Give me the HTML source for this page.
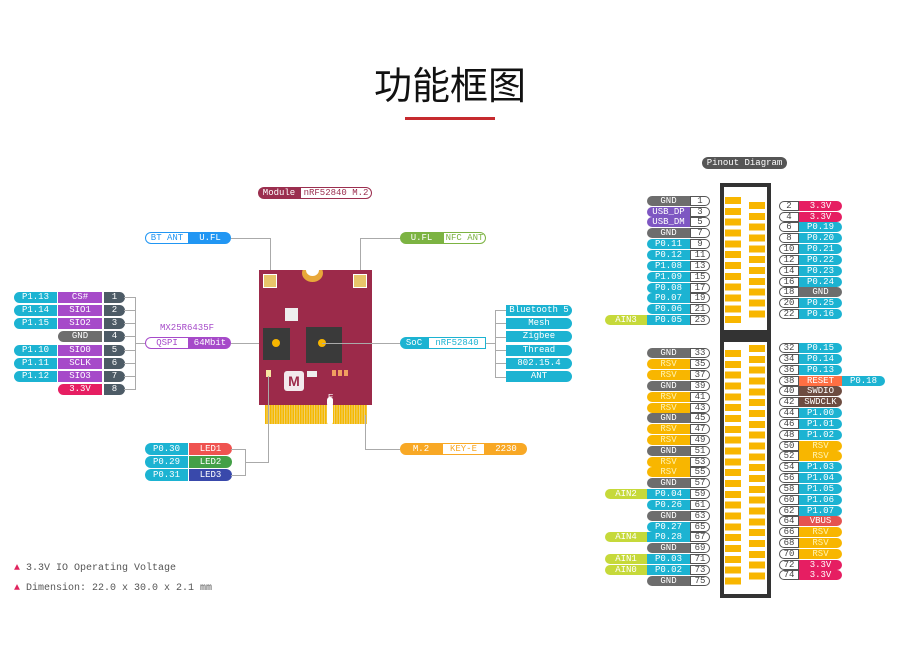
<!DOCTYPE html>
<html><head><meta charset="utf-8"><style>
*{margin:0;padding:0;box-sizing:border-box}
body{width:900px;height:657px;background:#fff;position:relative;overflow:hidden;font-family:"Liberation Mono",monospace;font-size:9px;color:#fff}
.a{position:absolute}
.t{position:absolute;left:0;width:900px;top:55px;text-align:center;font:38px "Liberation Sans","Noto Sans CJK SC",sans-serif;color:#111}
.row{position:absolute;display:flex;height:10px;line-height:10px;white-space:nowrap}
.row span{display:block;text-align:center;height:10px}
.L{left:605px}.R{left:779px}
.x{width:42px}.n{width:43px}.num{width:20px;background:#fff;color:#444;border:1px solid #555;border-radius:0 5px 5px 0;line-height:8px}
.R .num{border-radius:5px 0 0 5px}
.R .n{border-radius:0 5px 5px 0}
.lr{border-radius:5px 0 0 5px}
.g{background:#6d6d6d}.c{background:#1cb3d2}.y{background:#f8b600;color:#fff3b0}.m{background:#c6d93a;color:#fff}
.p{background:#7e57c2}.r{background:#e61e62}.o{background:#ff6f43}.b{background:#6d4c41}.v{background:#e55350}
.line{position:absolute;background:#aaa}
.f{position:absolute;display:flex;height:11px;line-height:11px;font-size:9px;white-space:nowrap}
.f span{display:block;text-align:center}
</style></head><body>
<div class="t">功能框图</div>
<div class="a" style="left:405px;top:117px;width:90px;height:3px;background:#c62a2e"></div>

<div class="f" style="left:258px;top:187px;height:12px;line-height:12px"><span style="width:42px;background:#9b2f4f;border-radius:6px 0 0 6px">Module</span><span style="width:72px;background:#fff;color:#9b2f4f;border:1px solid #9b2f4f;border-radius:0 6px 6px 0;line-height:10px">nRF52840 M.2</span></div>

<div class="f" style="left:145px;top:232px;height:12px;line-height:12px"><span style="width:44px;background:#fff;color:#2196f3;border:1px solid #2196f3;border-radius:6px 0 0 6px;line-height:10px">BT ANT</span><span style="width:42px;background:#2196f3;border-radius:0 6px 6px 0">U.FL</span></div>
<div class="line" style="left:231px;top:238px;width:40px;height:1px"></div>
<div class="line" style="left:270px;top:238px;width:1px;height:34px"></div>

<div class="f" style="left:400px;top:232px;height:12px;line-height:12px"><span style="width:43px;background:#7cb342;border-radius:6px 0 0 6px">U.FL</span><span style="width:43px;background:#fff;color:#7cb342;border:1px solid #7cb342;border-radius:0 6px 6px 0;line-height:10px">NFC ANT</span></div>
<div class="line" style="left:360px;top:238px;width:40px;height:1px"></div>
<div class="line" style="left:360px;top:238px;width:1px;height:34px"></div>

<div class="f" style="left:14px;top:292px"><span class="c" style="width:43px;border-radius:6px 0 0 6px">P1.13</span><span style="width:44px;background:#a64ac9;margin-left:1px">CS#</span><span style="width:21px;background:#4d5b66;margin-left:2px;border-radius:0 6px 6px 0">1</span></div>
<div class="f" style="left:14px;top:305px"><span class="c" style="width:43px;border-radius:6px 0 0 6px">P1.14</span><span style="width:44px;background:#a64ac9;margin-left:1px">SIO1</span><span style="width:21px;background:#4d5b66;margin-left:2px;border-radius:0 6px 6px 0">2</span></div>
<div class="f" style="left:14px;top:318px"><span class="c" style="width:43px;border-radius:6px 0 0 6px">P1.15</span><span style="width:44px;background:#a64ac9;margin-left:1px">SIO2</span><span style="width:21px;background:#4d5b66;margin-left:2px;border-radius:0 6px 6px 0">3</span></div>
<div class="f" style="left:14px;top:331px"><span style="width:43px"></span><span class="g" style="width:44px;margin-left:1px;border-radius:6px 0 0 6px">GND</span><span style="width:21px;background:#4d5b66;margin-left:2px;border-radius:0 6px 6px 0">4</span></div>
<div class="f" style="left:14px;top:345px"><span class="c" style="width:43px;border-radius:6px 0 0 6px">P1.10</span><span style="width:44px;background:#a64ac9;margin-left:1px">SIO0</span><span style="width:21px;background:#4d5b66;margin-left:2px;border-radius:0 6px 6px 0">5</span></div>
<div class="f" style="left:14px;top:358px"><span class="c" style="width:43px;border-radius:6px 0 0 6px">P1.11</span><span style="width:44px;background:#a64ac9;margin-left:1px">SCLK</span><span style="width:21px;background:#4d5b66;margin-left:2px;border-radius:0 6px 6px 0">6</span></div>
<div class="f" style="left:14px;top:371px"><span class="c" style="width:43px;border-radius:6px 0 0 6px">P1.12</span><span style="width:44px;background:#a64ac9;margin-left:1px">SIO3</span><span style="width:21px;background:#4d5b66;margin-left:2px;border-radius:0 6px 6px 0">7</span></div>
<div class="f" style="left:14px;top:384px"><span style="width:43px"></span><span class="r" style="width:44px;margin-left:1px;border-radius:6px 0 0 6px">3.3V</span><span style="width:21px;background:#4d5b66;margin-left:2px;border-radius:0 6px 6px 0">8</span></div>
<div class="line" style="left:124px;top:297px;width:11px;height:1px"></div>
<div class="line" style="left:124px;top:310px;width:11px;height:1px"></div>
<div class="line" style="left:124px;top:323px;width:11px;height:1px"></div>
<div class="line" style="left:124px;top:336px;width:11px;height:1px"></div>
<div class="line" style="left:124px;top:350px;width:11px;height:1px"></div>
<div class="line" style="left:124px;top:363px;width:11px;height:1px"></div>
<div class="line" style="left:124px;top:376px;width:11px;height:1px"></div>
<div class="line" style="left:124px;top:389px;width:11px;height:1px"></div>
<div class="line" style="left:135px;top:297px;width:1px;height:93px"></div>
<div class="line" style="left:135px;top:343px;width:10px;height:1px"></div>
<div class="a" style="left:160px;top:323px;color:#a64ac9;font-size:9px">MX25R6435F</div>
<div class="f" style="left:145px;top:337px;height:12px;line-height:12px"><span style="width:44px;background:#fff;color:#a64ac9;border:1px solid #a64ac9;border-radius:6px 0 0 6px;line-height:10px">QSPI</span><span style="width:42px;background:#a64ac9;border-radius:0 6px 6px 0">64Mbit</span></div>
<div class="line" style="left:231px;top:343px;width:45px;height:1px"></div>

<div class="a" style="left:265px;top:404px;width:102px;height:20px;background:repeating-linear-gradient(90deg,#f5b800 0 1.5px,#f0d070 1.5px 2.5px)"></div>
<div class="a" style="left:327px;top:400px;width:6px;height:25px;background:#fff;border-radius:3px"></div>
<div class="a" style="left:259px;top:270px;width:113px;height:135px;background:#9c2a4a"></div>
<div class="a" style="left:327px;top:397px;width:6px;height:10px;background:#fff;border-radius:3px"></div>
<div class="a" style="left:302px;top:264px;width:21px;height:18px;border-radius:50%;background:#e8a83a"></div>
<div class="a" style="left:306px;top:264px;width:13px;height:12px;border-radius:50%;background:#fff"></div>
<div class="a" style="left:302px;top:262px;width:21px;height:8px;background:#fff"></div>
<div class="a" style="left:263px;top:274px;width:14px;height:14px;background:#e8c46a;border:1px solid #fff"></div>
<div class="a" style="left:353px;top:274px;width:14px;height:14px;background:#e8c46a;border:1px solid #fff"></div>
<div class="a" style="left:285px;top:308px;width:13px;height:13px;background:#eee"></div>
<div class="a" style="left:263px;top:328px;width:27px;height:32px;background:#3a3a3a"></div>
<div class="a" style="left:272px;top:339px;width:8px;height:8px;background:#f7b500;border-radius:50%"></div>
<div class="a" style="left:306px;top:327px;width:36px;height:36px;background:#3a3a3a"></div>
<div class="a" style="left:318px;top:339px;width:8px;height:8px;background:#f7b500;border-radius:50%"></div>
<div class="a" style="left:284px;top:371px;width:20px;height:20px;background:#f2e9ec;border-radius:3px;color:#9c2a4a;font:bold 14px 'Liberation Sans',sans-serif;text-align:center;line-height:20px">M</div>
<div class="a" style="left:307px;top:371px;width:10px;height:6px;background:#eee"></div>
<div class="a" style="left:332px;top:370px;width:18px;height:6px;background:repeating-linear-gradient(90deg,#f0a060 0 4px,transparent 4px 6px)"></div>
<div class="a" style="left:266px;top:370px;width:5px;height:7px;background:#f7e7a0"></div>
<div class="a" style="left:328px;top:393px;font:8px 'Liberation Sans',sans-serif;color:#fff">E</div>

<div class="line" style="left:322px;top:343px;width:78px;height:1px"></div>
<div class="f" style="left:400px;top:337px;height:12px;line-height:12px"><span class="c" style="width:28px;border-radius:6px 0 0 6px">SoC</span><span style="width:58px;background:#fff;color:#1cb3d2;border:1px solid #1cb3d2;line-height:10px">nRF52840</span></div>
<div class="line" style="left:486px;top:343px;width:9px;height:1px"></div>
<div class="line" style="left:495px;top:310px;width:1px;height:67px"></div>
<div class="line" style="left:495px;top:310px;width:11px;height:1px"></div>
<div class="line" style="left:495px;top:323px;width:11px;height:1px"></div>
<div class="line" style="left:495px;top:337px;width:11px;height:1px"></div>
<div class="line" style="left:495px;top:350px;width:11px;height:1px"></div>
<div class="line" style="left:495px;top:363px;width:11px;height:1px"></div>
<div class="line" style="left:495px;top:377px;width:11px;height:1px"></div>
<div class="f" style="left:506px;top:305px"><span class="c" style="width:66px;border-radius:0 6px 6px 0">Bluetooth 5</span></div>
<div class="f" style="left:506px;top:318px"><span class="c" style="width:66px;border-radius:0 6px 6px 0">Mesh</span></div>
<div class="f" style="left:506px;top:331px"><span class="c" style="width:66px;border-radius:0 6px 6px 0">Zigbee</span></div>
<div class="f" style="left:506px;top:345px"><span class="c" style="width:66px;border-radius:0 6px 6px 0">Thread</span></div>
<div class="f" style="left:506px;top:358px"><span class="c" style="width:66px;border-radius:0 6px 6px 0">802.15.4</span></div>
<div class="f" style="left:506px;top:371px"><span class="c" style="width:66px;border-radius:0 6px 6px 0">ANT</span></div>

<div class="line" style="left:365px;top:415px;width:1px;height:34px"></div>
<div class="line" style="left:365px;top:449px;width:35px;height:1px"></div>
<div class="f" style="left:400px;top:443px;height:12px;line-height:12px"><span style="width:42px;background:#f8a825;border-radius:6px 0 0 6px">M.2</span><span style="width:43px;background:#fff;color:#f8a825;border:1px solid #f8a825;line-height:10px">KEY-E</span><span style="width:42px;background:#f8a825;border-radius:0 6px 6px 0">2230</span></div>

<div class="f" style="left:145px;top:443px;height:12px;line-height:12px"><span class="c" style="width:43px;border-radius:6px 0 0 6px">P0.30</span><span style="width:43px;margin-left:1px;background:#ef5350;border-radius:0 6px 6px 0">LED1</span></div>
<div class="f" style="left:145px;top:456px;height:12px;line-height:12px"><span class="c" style="width:43px;border-radius:6px 0 0 6px">P0.29</span><span style="width:43px;margin-left:1px;background:#43a047;border-radius:0 6px 6px 0">LED2</span></div>
<div class="f" style="left:145px;top:469px;height:12px;line-height:12px"><span class="c" style="width:43px;border-radius:6px 0 0 6px">P0.31</span><span style="width:43px;margin-left:1px;background:#3949ab;border-radius:0 6px 6px 0">LED3</span></div>
<div class="line" style="left:231px;top:449px;width:14px;height:1px"></div>
<div class="line" style="left:231px;top:475px;width:14px;height:1px"></div>
<div class="line" style="left:245px;top:449px;width:1px;height:27px"></div>
<div class="line" style="left:245px;top:462px;width:24px;height:1px"></div>
<div class="line" style="left:268px;top:376px;width:1px;height:87px"></div>

<div class="a" style="left:14px;top:563px;color:#555;font-size:10px"><span style="color:#e0245e">▲</span> 3.3V IO Operating Voltage</div>
<div class="a" style="left:14px;top:583px;color:#555;font-size:10px"><span style="color:#e0245e">▲</span> Dimension: 22.0 x 30.0 x 2.1 mm</div>

<div class="a" style="left:702px;top:157px;width:85px;height:12px;background:#555;border-radius:6px;text-align:center;line-height:12px">Pinout Diagram</div>
<div class="a" style="left:720px;top:183px;width:51px;height:415px;background:#333"></div>
<div class="a" style="left:724px;top:187px;width:43px;height:143px;background:#fff"></div>
<div class="a" style="left:724px;top:342px;width:43px;height:252px;background:#fff"></div>
<div class="a" style="left:725px;top:197px;width:16px;height:130px;background:repeating-linear-gradient(#f8b600 0 7px,transparent 7px 10.83px)"></div>
<div class="a" style="left:749px;top:202px;width:16px;height:118px;background:repeating-linear-gradient(#f8b600 0 7px,transparent 7px 10.83px)"></div>
<div class="a" style="left:725px;top:350px;width:16px;height:238px;background:repeating-linear-gradient(#f8b600 0 7px,transparent 7px 10.83px)"></div>
<div class="a" style="left:749px;top:345px;width:16px;height:238px;background:repeating-linear-gradient(#f8b600 0 7px,transparent 7px 10.83px)"></div>

<div class="row L" style="top:195.7px"><span class="x"></span><span class="n g lr">GND</span><span class="num">1</span></div>
<div class="row L" style="top:206.5px"><span class="x"></span><span class="n p lr">USB_DP</span><span class="num">3</span></div>
<div class="row L" style="top:217.4px"><span class="x"></span><span class="n p lr">USB_DM</span><span class="num">5</span></div>
<div class="row L" style="top:228.3px"><span class="x"></span><span class="n g lr">GND</span><span class="num">7</span></div>
<div class="row L" style="top:239.1px"><span class="x"></span><span class="n c lr">P0.11</span><span class="num">9</span></div>
<div class="row L" style="top:250px"><span class="x"></span><span class="n c lr">P0.12</span><span class="num">11</span></div>
<div class="row L" style="top:260.8px"><span class="x"></span><span class="n c lr">P1.08</span><span class="num">13</span></div>
<div class="row L" style="top:271.7px"><span class="x"></span><span class="n c lr">P1.09</span><span class="num">15</span></div>
<div class="row L" style="top:282.5px"><span class="x"></span><span class="n c lr">P0.08</span><span class="num">17</span></div>
<div class="row L" style="top:293.4px"><span class="x"></span><span class="n c lr">P0.07</span><span class="num">19</span></div>
<div class="row L" style="top:304.2px"><span class="x"></span><span class="n c lr">P0.06</span><span class="num">21</span></div>
<div class="row L" style="top:315.1px"><span class="x m lr">AIN3</span><span class="n c">P0.05</span><span class="num">23</span></div>
<div class="row L" style="top:348.3px"><span class="x"></span><span class="n g lr">GND</span><span class="num">33</span></div>
<div class="row L" style="top:359.1px"><span class="x"></span><span class="n y lr">RSV</span><span class="num">35</span></div>
<div class="row L" style="top:370px"><span class="x"></span><span class="n y lr">RSV</span><span class="num">37</span></div>
<div class="row L" style="top:380.8px"><span class="x"></span><span class="n g lr">GND</span><span class="num">39</span></div>
<div class="row L" style="top:391.6px"><span class="x"></span><span class="n y lr">RSV</span><span class="num">41</span></div>
<div class="row L" style="top:402.5px"><span class="x"></span><span class="n y lr">RSV</span><span class="num">43</span></div>
<div class="row L" style="top:413.3px"><span class="x"></span><span class="n g lr">GND</span><span class="num">45</span></div>
<div class="row L" style="top:424.1px"><span class="x"></span><span class="n y lr">RSV</span><span class="num">47</span></div>
<div class="row L" style="top:435px"><span class="x"></span><span class="n y lr">RSV</span><span class="num">49</span></div>
<div class="row L" style="top:445.8px"><span class="x"></span><span class="n g lr">GND</span><span class="num">51</span></div>
<div class="row L" style="top:456.6px"><span class="x"></span><span class="n y lr">RSV</span><span class="num">53</span></div>
<div class="row L" style="top:467.4px"><span class="x"></span><span class="n y lr">RSV</span><span class="num">55</span></div>
<div class="row L" style="top:478.3px"><span class="x"></span><span class="n g lr">GND</span><span class="num">57</span></div>
<div class="row L" style="top:489.1px"><span class="x m lr">AIN2</span><span class="n c">P0.04</span><span class="num">59</span></div>
<div class="row L" style="top:499.9px"><span class="x"></span><span class="n c lr">P0.26</span><span class="num">61</span></div>
<div class="row L" style="top:510.8px"><span class="x"></span><span class="n g lr">GND</span><span class="num">63</span></div>
<div class="row L" style="top:521.6px"><span class="x"></span><span class="n c lr">P0.27</span><span class="num">65</span></div>
<div class="row L" style="top:532.4px"><span class="x m lr">AIN4</span><span class="n c">P0.28</span><span class="num">67</span></div>
<div class="row L" style="top:543.3px"><span class="x"></span><span class="n g lr">GND</span><span class="num">69</span></div>
<div class="row L" style="top:554.1px"><span class="x m lr">AIN1</span><span class="n c">P0.03</span><span class="num">71</span></div>
<div class="row L" style="top:564.9px"><span class="x m lr">AIN0</span><span class="n c">P0.02</span><span class="num">73</span></div>
<div class="row L" style="top:575.7px"><span class="x"></span><span class="n g lr">GND</span><span class="num">75</span></div>
<div class="row R" style="top:200.7px"><span class="num">2</span><span class="n r">3.3V</span></div>
<div class="row R" style="top:211.5px"><span class="num">4</span><span class="n r">3.3V</span></div>
<div class="row R" style="top:222.4px"><span class="num">6</span><span class="n c">P0.19</span></div>
<div class="row R" style="top:233.2px"><span class="num">8</span><span class="n c">P0.20</span></div>
<div class="row R" style="top:244px"><span class="num">10</span><span class="n c">P0.21</span></div>
<div class="row R" style="top:254.9px"><span class="num">12</span><span class="n c">P0.22</span></div>
<div class="row R" style="top:265.7px"><span class="num">14</span><span class="n c">P0.23</span></div>
<div class="row R" style="top:276.5px"><span class="num">16</span><span class="n c">P0.24</span></div>
<div class="row R" style="top:287.3px"><span class="num">18</span><span class="n g">GND</span></div>
<div class="row R" style="top:298.2px"><span class="num">20</span><span class="n c">P0.25</span></div>
<div class="row R" style="top:309px"><span class="num">22</span><span class="n c">P0.16</span></div>
<div class="row R" style="top:343px"><span class="num">32</span><span class="n c">P0.15</span></div>
<div class="row R" style="top:353.8px"><span class="num">34</span><span class="n c">P0.14</span></div>
<div class="row R" style="top:364.7px"><span class="num">36</span><span class="n c">P0.13</span></div>
<div class="row R" style="top:375.5px"><span class="num">38</span><span class="n o" style="border-radius:0">RESET</span><span class="n c">P0.18</span></div>
<div class="row R" style="top:386.3px"><span class="num">40</span><span class="n b">SWDIO</span></div>
<div class="row R" style="top:397.2px"><span class="num">42</span><span class="n b">SWDCLK</span></div>
<div class="row R" style="top:408px"><span class="num">44</span><span class="n c">P1.00</span></div>
<div class="row R" style="top:418.8px"><span class="num">46</span><span class="n c">P1.01</span></div>
<div class="row R" style="top:429.6px"><span class="num">48</span><span class="n c">P1.02</span></div>
<div class="row R" style="top:440.5px"><span class="num">50</span><span class="n y">RSV</span></div>
<div class="row R" style="top:451.3px"><span class="num">52</span><span class="n y">RSV</span></div>
<div class="row R" style="top:462.1px"><span class="num">54</span><span class="n c">P1.03</span></div>
<div class="row R" style="top:473px"><span class="num">56</span><span class="n c">P1.04</span></div>
<div class="row R" style="top:483.8px"><span class="num">58</span><span class="n c">P1.05</span></div>
<div class="row R" style="top:494.6px"><span class="num">60</span><span class="n c">P1.06</span></div>
<div class="row R" style="top:505.5px"><span class="num">62</span><span class="n c">P1.07</span></div>
<div class="row R" style="top:516.3px"><span class="num">64</span><span class="n v">VBUS</span></div>
<div class="row R" style="top:527.1px"><span class="num">66</span><span class="n y">RSV</span></div>
<div class="row R" style="top:537.9px"><span class="num">68</span><span class="n y">RSV</span></div>
<div class="row R" style="top:548.8px"><span class="num">70</span><span class="n y">RSV</span></div>
<div class="row R" style="top:559.6px"><span class="num">72</span><span class="n r">3.3V</span></div>
<div class="row R" style="top:570.4px"><span class="num">74</span><span class="n r">3.3V</span></div>
</body></html>
